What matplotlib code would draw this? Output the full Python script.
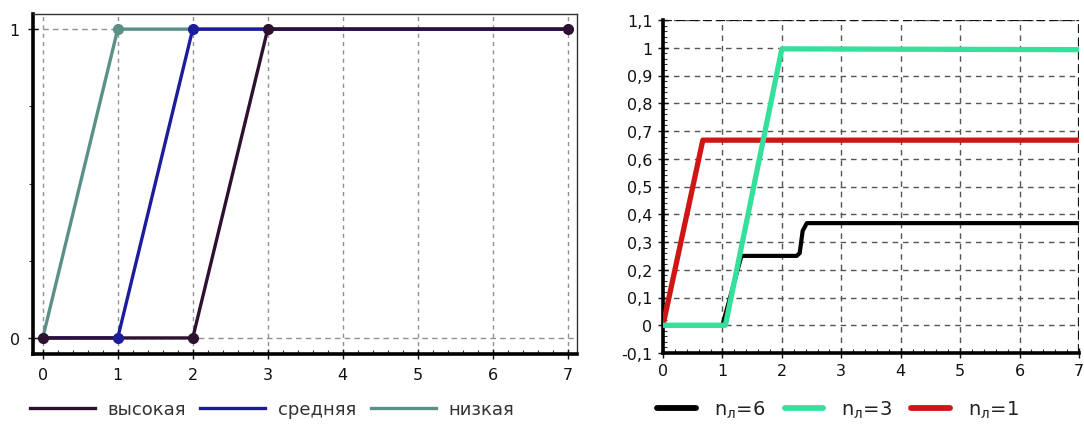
import matplotlib
matplotlib.use("Agg")
import matplotlib.pyplot as plt
from matplotlib.ticker import FixedLocator, AutoMinorLocator, FuncFormatter
from matplotlib.lines import Line2D

plt.rcParams['font.family'] = ['DejaVu Sans']
plt.rcParams['mathtext.fontset'] = 'dejavusans'

# ---- left chart data ----
left_labels = ["высокая", "средняя", "низкая"]
high_x = [0, 2, 3, 7]
high_y = [0, 0, 1, 1]
mid_x = [0, 1, 2, 7]
mid_y = [0, 0, 1, 1]
low_x = [0, 1, 7]
low_y = [0, 1, 1]
left_xticks = [0, 1, 2, 3, 4, 5, 6, 7]
left_yticks = [0, 1]

# ---- right chart data ----
right_labels = [r"n$_\mathregular{л}$=6", r"n$_\mathregular{л}$=3", r"n$_\mathregular{л}$=1"]
n6_x = [0, 1.0, 1.32, 2.25, 2.3, 2.35, 2.42, 7]
n6_y = [0, 0, 0.25, 0.25, 0.26, 0.34, 0.368, 0.368]
n3_x = [0, 1.05, 2.0, 7]
n3_y = [0, 0, 0.996, 0.993]
n1_x = [0, 0.67, 7]
n1_y = [0, 0.667, 0.667]
right_xticks = [0, 1, 2, 3, 4, 5, 6, 7]
right_yticks = [-0.1, 0, 0.1, 0.2, 0.3, 0.4, 0.5, 0.6, 0.7, 0.8, 0.9, 1.0, 1.1]

W, H = 1084, 427
fig = plt.figure(figsize=(W / 100, H / 100), dpi=100)

def frac(x0, y0, x1, y1):
    return [x0 / W, 1 - y1 / H, (x1 - x0) / W, (y1 - y0) / H]

c_high = "#2e1030"
c_mid = "#1c1c9c"
c_low = "#5a9088"

# ---------------- left ----------------
ax = fig.add_axes(frac(33, 15, 577, 355))
ax.set_xlim(-0.13, 7.124)
ax.set_ylim(-0.052, 1.049)
for v in left_xticks:
    ax.axvline(v, color="#909090", lw=1.0, ls=(0, (3, 3)), zorder=1)
for v in left_yticks:
    ax.axhline(v, color="#909090", lw=1.0, ls=(0, (4, 3)), zorder=1)

ax.plot(low_x, low_y, color=c_low, lw=2.4, zorder=3, solid_capstyle='butt')
ax.plot(mid_x, mid_y, color=c_mid, lw=2.4, zorder=4, solid_capstyle='butt')
ax.plot(high_x, high_y, color=c_high, lw=2.4, zorder=5, solid_capstyle='butt')
ax.plot(low_x[1:2], low_y[1:2], 'o', color=c_low, ms=7, zorder=6)
ax.plot(mid_x[1:3], mid_y[1:3], 'o', color=c_mid, ms=7, zorder=6)
ax.plot(high_x, high_y, 'o', color=c_high, ms=7, zorder=6)

ax.xaxis.set_major_locator(FixedLocator(left_xticks))
ax.yaxis.set_major_locator(FixedLocator(left_yticks))
ax.xaxis.set_minor_locator(AutoMinorLocator(5))
ax.yaxis.set_minor_locator(FixedLocator([0.25, 0.5, 0.75]))
ax.tick_params(which='major', direction='inout', length=7, width=1, labelsize=11.5, colors='#111111', pad=6)
ax.tick_params(which='minor', direction='in', length=3, width=0.8, color='#333333')
ax.tick_params(axis='y', which='minor', direction='out', length=3)
for s in ['left', 'bottom']:
    ax.spines[s].set_linewidth(2.6)
for s in ['top', 'right']:
    ax.spines[s].set_linewidth(1.0)
    ax.spines[s].set_color("#333333")

handles = [Line2D([], [], color=c, lw=2.4) for c in (c_high, c_mid, c_low)]
fig.legend(handles, left_labels, loc='center', bbox_to_anchor=(272 / W, 1 - 410 / H),
           ncol=3, frameon=False, fontsize=13, handlelength=3.6, handletextpad=0.7,
           columnspacing=0.8, prop={'size': 13}, labelcolor='#333333')

# ---------------- right ----------------
ax2 = fig.add_axes(frac(663, 21, 1079, 354))
ax2.set_xlim(0, 7)
ax2.set_ylim(-0.1, 1.1)
for v in right_xticks:
    ax2.axvline(v, color="#555555", lw=1.0, ls=(0, (4, 3.5)), zorder=1)
for v in right_yticks:
    ax2.axhline(v, color="#555555", lw=1.0, ls=(0, (4, 3.5)), zorder=1)
ax2.axhline(1.1, color="#111111", lw=1.6, ls=(0, (4, 2)), zorder=2)
ax2.axvline(7, color="#111111", lw=1.6, ls=(0, (4, 2)), zorder=2)

c6 = "#000000"
c3 = "#34e09c"
c1 = "#d01515"
ax2.plot(n1_x, n1_y, color=c1, lw=3.8, zorder=3)
ax2.plot(n6_x, n6_y, color=c6, lw=3.0, zorder=4)
ax2.plot(n3_x, n3_y, color=c3, lw=3.8, zorder=5)

ax2.xaxis.set_major_locator(FixedLocator(right_xticks))
ax2.yaxis.set_major_locator(FixedLocator(right_yticks))
ax2.xaxis.set_minor_locator(AutoMinorLocator(5))
ax2.yaxis.set_minor_locator(AutoMinorLocator(5))
ax2.yaxis.set_major_formatter(FuncFormatter(
    lambda v, p: ("%g" % round(v, 2)).replace('.', ',')))
ax2.tick_params(which='major', direction='inout', length=7, width=1, labelsize=11.5, colors='#111111', pad=4)
ax2.tick_params(which='minor', direction='in', length=3, width=0.8, color='#333333')
for s in ['left', 'bottom']:
    ax2.spines[s].set_linewidth(2.6)
for s in ['top', 'right']:
    ax2.spines[s].set_visible(False)

handles2 = [Line2D([], [], color=c, lw=4.2, solid_capstyle='round') for c in (c6, c3, c1)]
fig.legend(handles2, right_labels, loc='center', bbox_to_anchor=(838 / W, 1 - 410 / H),
           ncol=3, frameon=False, handlelength=2.0, handletextpad=0.9,
           columnspacing=1.0, prop={'size': 14}, labelcolor='#222222')

fig.savefig("out.png", dpi=100)
